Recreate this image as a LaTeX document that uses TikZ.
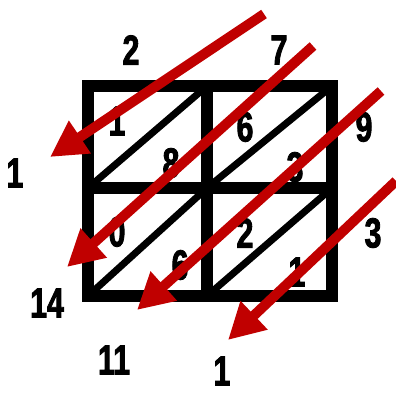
\documentclass[tikz,border=0pt]{standalone}
\usepackage{fontspec}
\newfontfamily\digitfont[FakeStretch=0.72,FakeBold=2]{Liberation Sans Bold}
\usepackage{xcolor}
\usetikzlibrary{arrows.meta}
\definecolor{arrowred}{HTML}{C00000}
\begin{document}
\begin{tikzpicture}[x=1pt, y=-1pt,
  grid/.style={line width=12pt, line cap=rect},
  diag/.style={line width=7pt},
  digit/.style={font=\digitfont\fontsize{42}{42}\selectfont, inner sep=0pt},
  sweep/.style={-{Triangle[length=36pt,width=37pt]}, line width=10pt, arrowred}]
  \useasboundingbox (0,0) rectangle (396,393);
  % lattice
  \coordinate (nw) at (88,86);
  \coordinate (se) at (332,296);
  \draw[grid] (nw) rectangle (se);
  \draw[grid] (207,86) -- (207,296);
  \draw[grid] (88,188) -- (332,188);
  \draw[diag] (88,188) -- (207,86);
  \draw[diag] (207,188) -- (332,86);
  \draw[diag] (88,296) -- (207,188);
  \draw[diag] (207,296) -- (332,188);
  % factors
  \node[digit] (a2) at (131,50) {2};
  \node[digit] (a7) at (279,50) {7};
  \node[digit] (b9) at (364,127) {9};
  \node[digit] (b3) at (373,233) {3};
  % partial products
  \node[digit] (p1) at (117,121) {1};
  \node[digit] (p8) at (171,163) {8};
  \node[digit] (p6) at (245,127) {6};
  \node[digit] (p3) at (295,167) {3};
  \node[digit] (q0) at (117,232) {0};
  \node[digit] (q6) at (180,265) {6};
  \node[digit] (q2) at (245,233) {2};
  \node[digit] (q1) at (297,272) {1};
  % diagonal sums
  \node[digit] (s1) at (15,173) {1};
  \node[digit] (s14) at (47,303) {14};
  \node[digit] (s11) at (114,360) {11};
  \node[digit] (s0) at (222,371) {1};
  % sweeps
  \coordinate (t1) at (264,14);
  \coordinate (h1) at (50,157);
  \coordinate (t2) at (313,46);
  \coordinate (h2) at (67,267);
  \coordinate (t3) at (381,91);
  \coordinate (h3) at (137,310);
  \coordinate (t4) at (396,181);
  \coordinate (h4) at (228,340);
  \draw[sweep] (t1) -- (h1);
  \draw[sweep] (t2) -- (h2);
  \draw[sweep] (t3) -- (h3);
  \draw[sweep] (t4) -- (h4);
\end{tikzpicture}
\end{document}
